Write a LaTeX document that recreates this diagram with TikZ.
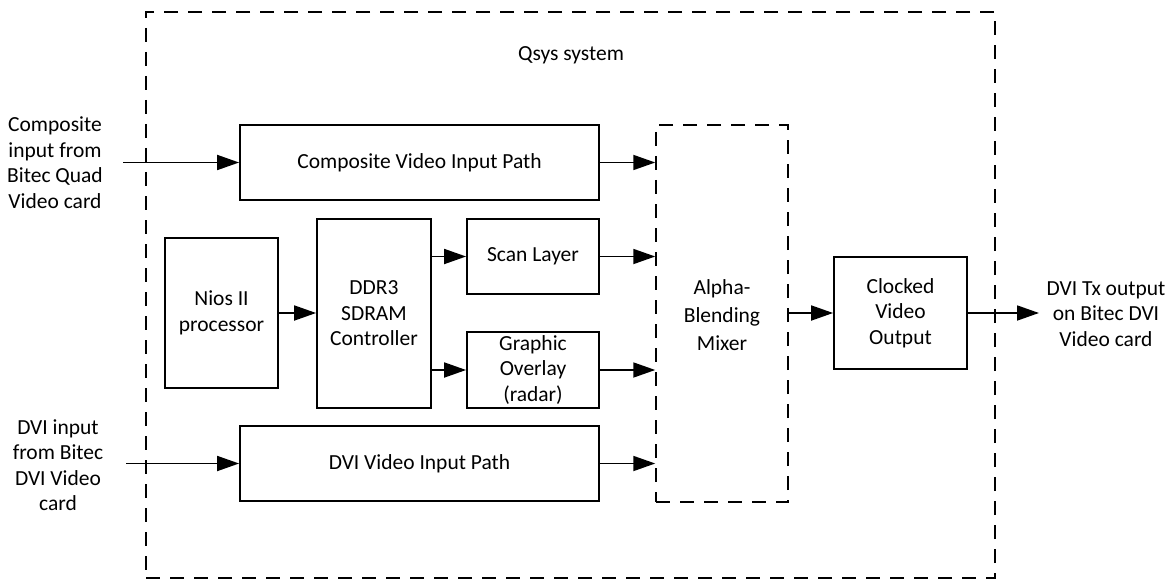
\documentclass[tikz,border=0pt]{standalone}
\usepackage{fontspec}
\setmainfont{Carlito}
\usetikzlibrary{arrows.meta}
\begin{document}
\begin{tikzpicture}[x=1pt,y=-1pt,
  every node/.style={font=\fontsize{21.5}{25.5}\selectfont, align=center, inner sep=0pt},
  blk/.style={draw, line width=1.8pt, rectangle},
  dbox/.style={draw, line width=1.5pt, dash pattern=on 14pt off 10pt, rectangle},
  conn/.style={line width=1.8pt, -{Triangle[length=22pt,width=15pt]}},
  lbl/.style={text=black}]
\useasboundingbox (0,0) rectangle (1172,580);
\node[dbox, minimum width=849pt, minimum height=566pt] (outer) at (570.5,295) {};
\node[lbl] (qsys) at (571,55) {Qsys system};
\node[dbox, minimum width=132pt, minimum height=377pt] (mixer) at (722,313.5) {};
\node[lbl, font=\fontsize{21.5}{28}\selectfont] (mixtext) at (722,315) {Alpha-\\Blending\\Mixer};
\node[blk, minimum width=359pt, minimum height=75pt] (comp) at (419.5,162.5) {Composite Video Input Path};
\node[blk, minimum width=113pt, minimum height=150pt] (nios) at (221.5,313) {Nios II\\processor};
\node[blk, minimum width=114pt, minimum height=189pt] (ddr) at (374,313.5) {DDR3\\SDRAM\\Controller};
\node[blk, minimum width=132pt, minimum height=75pt] (scan) at (533,256.5) {Scan Layer};
\node[blk, minimum width=132pt, minimum height=76pt] (graph) at (533,370) {Graphic\\Overlay\\(radar)};
\node[blk, minimum width=359pt, minimum height=75pt] (dvi) at (419.5,463.5) {DVI Video Input Path};
\node[blk, minimum width=133pt, minimum height=112pt] (clk) at (900.5,313) {Clocked\\Video\\Output};
\node[lbl] (compin) at (55,162.5) {Composite\\input from\\Bitec Quad\\Video card};
\node[lbl] (dviin) at (58,465) {DVI input\\from Bitec\\DVI Video\\card};
\node[lbl] (dviout) at (1106,314) {DVI Tx output\\on Bitec DVI\\Video card};
\coordinate (cin) at (123,162.5);
\coordinate (din) at (126,463.5);
\coordinate (cout) at (1039,313);
\draw[conn] (cin) -- (cin -| comp.west);
\draw[conn] (din) -- (din -| dvi.west);
\draw[conn] (comp.east) -- (comp.east -| mixer.west);
\draw[conn] (scan.east) -- (scan.east -| mixer.west);
\draw[conn] (graph.east) -- (graph.east -| mixer.west);
\draw[conn] (dvi.east) -- (dvi.east -| mixer.west);
\draw[conn] (nios.east) -- (nios.east -| ddr.west);
\draw[conn] (ddr.east |- scan.west) -- (scan.west);
\draw[conn] (ddr.east |- graph.west) -- (graph.west);
\draw[conn] (mixer.east |- clk.west) -- (clk.west);
\draw[conn] (clk.east) -- (cout);
\end{tikzpicture}
\end{document}
